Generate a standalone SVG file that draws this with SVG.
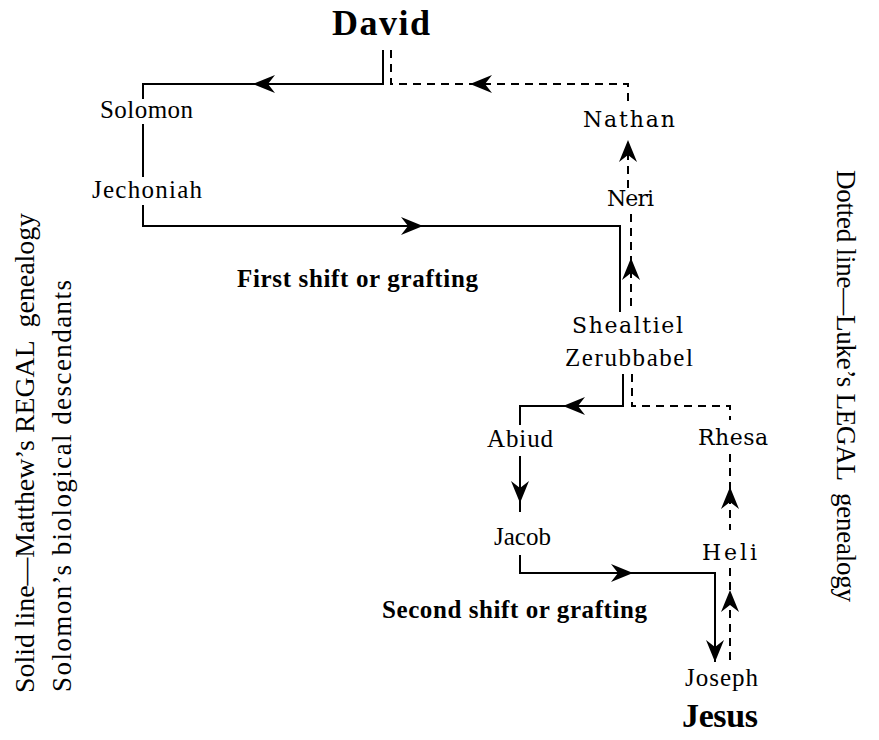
<svg xmlns="http://www.w3.org/2000/svg" xmlns:xlink="http://www.w3.org/1999/xlink" width="879" height="740" viewBox="0 0 879 740">
<style>
.bg{fill:#fff}
.sol{fill:none;stroke:#000;stroke-width:2}
.dsh{fill:none;stroke:#000;stroke-width:2;stroke-dasharray:8 6}
.nm{font-family:"Liberation Serif",serif;font-size:25px;fill:#000}
.nc{font-family:"DejaVu Serif","Liberation Serif",serif;font-size:22px;fill:#000}
.bd{font-family:"Liberation Serif",serif;font-weight:bold;fill:#000}
.side{font-family:"Liberation Serif",serif;font-size:27px;fill:#000}
</style>
<defs>
<path id="ah" d="M0,0 L-22,-9 L-15,0 L-22,9 Z" fill="#000"/>
</defs>
<rect class="bg" x="0" y="0" width="879" height="740"/>

<g id="connectors">
  <!-- Matthew (solid) -->
  <path class="sol" d="M383,50 V84 H143 V99"/>
  <use xlink:href="#ah" href="#ah" transform="translate(253,84) rotate(180)"/>
  <path class="sol" d="M143,124 V177"/>
  <path class="sol" d="M143,205 V226 H620 V312"/>
  <use xlink:href="#ah" href="#ah" transform="translate(423,226)"/>
  <path class="sol" d="M623,374 V406 H520 V425"/>
  <use xlink:href="#ah" href="#ah" transform="translate(563,406) rotate(180)"/>
  <path class="sol" d="M520,456 V512"/>
  <use xlink:href="#ah" href="#ah" transform="translate(520,503) rotate(90)"/>
  <path class="sol" d="M520,555 V573 H715 V662"/>
  <use xlink:href="#ah" href="#ah" transform="translate(633,573)"/>
  <use xlink:href="#ah" href="#ah" transform="translate(715,662) rotate(90)"/>
  <!-- Luke (dashed) -->
  <path class="dsh" d="M391,50 V84 H628 V104"/>
  <use xlink:href="#ah" href="#ah" transform="translate(470,84) rotate(180)"/>
  <path class="dsh" d="M628,188 V150"/>
  <use xlink:href="#ah" href="#ah" transform="translate(628,140) rotate(-90)"/>
  <path class="dsh" d="M631,214 V312"/>
  <use xlink:href="#ah" href="#ah" transform="translate(631,258) rotate(-90)"/>
  <path class="dsh" d="M632,374 V406 H730 V420"/>
  <path class="dsh" d="M730,454 V530"/>
  <use xlink:href="#ah" href="#ah" transform="translate(730,487) rotate(-90)"/>
  <path class="dsh" d="M730,568 V662"/>
  <use xlink:href="#ah" href="#ah" transform="translate(730,590) rotate(-90)"/>
</g>

<g id="david"><text class="bd" x="332" y="35" font-size="36" textLength="98" lengthAdjust="spacing">David</text></g>
<g id="solomon"><text class="nm" x="100" y="118" textLength="93" lengthAdjust="spacing">Solomon</text></g>
<g id="jechoniah"><text class="nm" x="92" y="198" font-size="26" textLength="110" lengthAdjust="spacing">Jechoniah</text></g>
<g id="nathan"><text class="nc" x="583" y="127" textLength="92" lengthAdjust="spacing">Nathan</text></g>
<g id="neri"><text class="nc" x="607" y="206" textLength="47" lengthAdjust="spacing">Neri</text></g>
<g id="first-shift"><text class="bd" x="237" y="287" font-size="25" textLength="241" lengthAdjust="spacing">First shift or grafting</text></g>
<g id="shealtiel"><text class="nc" x="572" y="333" textLength="111" lengthAdjust="spacing">Shealtiel</text></g>
<g id="zerubbabel"><text class="nm" x="565" y="366" font-size="26" textLength="128" lengthAdjust="spacing">Zerubbabel</text></g>
<g id="abiud"><text class="nm" x="487" y="447" textLength="66" lengthAdjust="spacing">Abiud</text></g>
<g id="rhesa"><text class="nc" x="698" y="445" textLength="70" lengthAdjust="spacing">Rhesa</text></g>
<g id="jacob"><text class="nm" x="494" y="545" font-size="23">Jacob</text></g>
<g id="heli"><text class="nc" x="702" y="560" textLength="55" lengthAdjust="spacing">Heli</text></g>
<g id="second-shift"><text class="bd" x="382" y="618" font-size="25" textLength="265" lengthAdjust="spacing">Second shift or grafting</text></g>
<g id="joseph"><text class="nm" x="685" y="686" textLength="73" lengthAdjust="spacing">Joseph</text></g>
<g id="jesus"><text class="bd" x="682" y="727" font-size="34" textLength="76" lengthAdjust="spacing">Jesus</text></g>

<g id="legend-left">
  <text class="side" transform="translate(34,693) rotate(-90)" textLength="480" lengthAdjust="spacingAndGlyphs" xml:space="preserve">Solid line—Matthew’s REGAL  genealogy</text>
  <text class="side" transform="translate(71,692) rotate(-90)" font-size="28" textLength="412" lengthAdjust="spacing">Solomon’s biological descendants</text>
</g>
<g id="legend-right">
  <text class="side" transform="translate(837,170) rotate(90)" font-size="26" textLength="432" lengthAdjust="spacing" xml:space="preserve">Dotted line—Luke’s LEGAL  genealogy</text>
</g>
</svg>
